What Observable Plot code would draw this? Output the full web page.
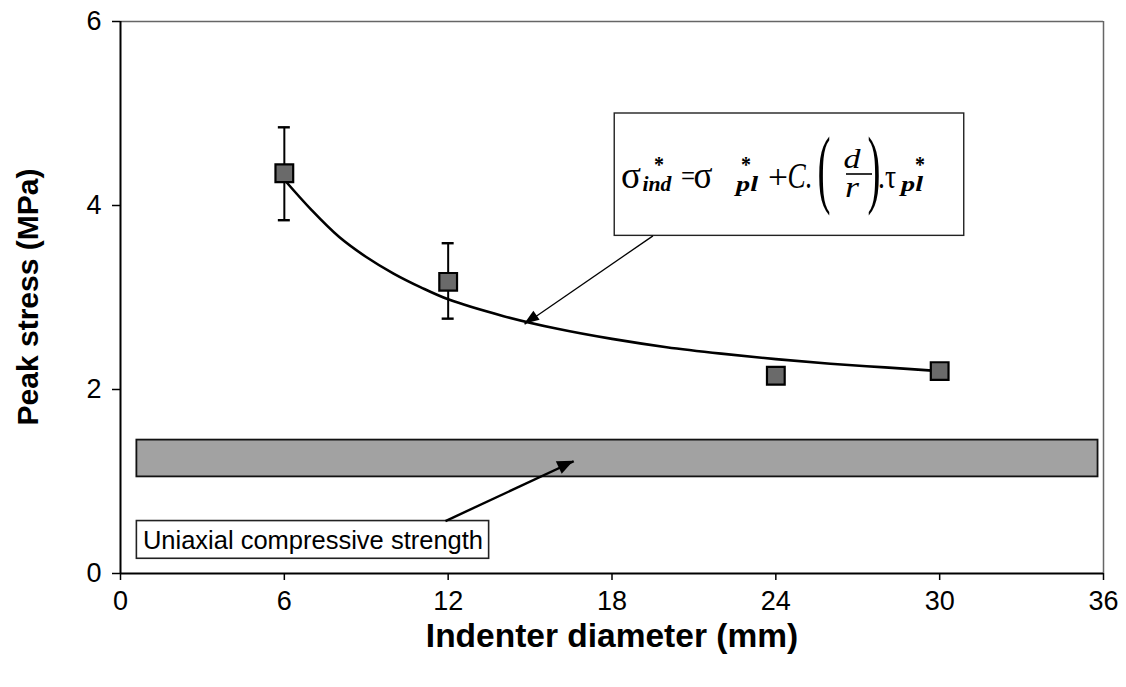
<!DOCTYPE html>
<html>
<head>
<meta charset="utf-8">
<script src="https://cdn.jsdelivr.net/npm/d3@7"></script>
<script src="https://cdn.jsdelivr.net/npm/@observablehq/plot@0.6"></script>
<style>
  html, body { margin: 0; padding: 0; background: #fff; }
  #chart svg { display: block; }
  #chart g[aria-label$="tick label"] text { font-size: 27px; }
</style>
</head>
<body>
<div id="chart"></div>
<script>
// ---- data ----
const diameters   = [6, 12, 24, 30];
const peakStress  = [4.35, 3.17, 2.15, 2.20];
const errLow      = [3.84, 2.77, null, null];
const errHigh     = [4.85, 3.59, null, null];

// fitted curve
const fitX = [6, 7, 8, 9, 10, 11, 12, 14, 16, 18, 20, 22, 24, 26, 28, 30];
const fitY = [4.28, 3.95, 3.66, 3.44, 3.26, 3.11, 2.98, 2.80, 2.66, 2.55, 2.46, 2.39, 2.33, 2.28, 2.24, 2.20];

// uniaxial compressive strength band
const ucsBand = [{x1: 0.6, x2: 35.8, y1: 1.05, y2: 1.45}];

const xTicks = [0, 6, 12, 18, 24, 30, 36];
const yTicks = [0, 2, 4, 6];

// annotation boxes & callout arrows (data units)
const formulaBox = [{x1: 18.1, x2: 30.9, y1: 3.67, y2: 5.0}];
const labelBox   = [{x1: 0.6, x2: 13.5, y1: 0.16, y2: 0.57, text: "Uniaxial compressive strength"}];
const callouts   = [
  {x1: 19.5, y1: 3.67, x2: 14.8, y2: 2.71, w: 1.3},
  {x1: 11.9, y1: 0.57, x2: 16.6, y2: 1.22, w: 2.4}
];

const xLabel = "Indenter diameter (mm)";
const yLabel = "Peak stress (MPa)";

// ---- build tables ----
const points = diameters.map((d, i) => ({x: d, y: peakStress[i], lo: errLow[i], hi: errHigh[i]}));
const errs = points.filter(p => p.lo != null);
const fit = fitX.map((d, i) => ({x: d, y: fitY[i]}));

const FONT = "'Liberation Sans', Arial, sans-serif";
const W = 1126, H = 687;
const plot = Plot.plot({
  width: W,
  height: H,
  marginLeft: 120,
  marginRight: 23,
  marginTop: 21,
  marginBottom: 114,
  style: {fontFamily: FONT, fontSize: "27px", color: "#000", background: "#fff"},
  x: {domain: [0, 36]},
  y: {domain: [0, 6]},
  marks: [
    Plot.axisX({ticks: xTicks, tickFormat: d => String(d), tickSize: 7, tickPadding: 10, label: null, stroke: "#000", strokeWidth: 1.5}),
    Plot.axisY({ticks: yTicks, tickFormat: d => String(d), tickSize: 8, tickPadding: 11, label: null, stroke: "#000", strokeWidth: 1.5}),
    // frame
    Plot.ruleY([6], {stroke: "#666", strokeWidth: 1.5}),
    Plot.ruleX([36], {stroke: "#666", strokeWidth: 1.5}),
    // band
    Plot.rect(ucsBand, {x1: "x1", x2: "x2", y1: "y1", y2: "y2", fill: "#a2a2a2", stroke: "#111", strokeWidth: 1.8, ariaLabel: "ucs band"}),
    // fit curve
    Plot.line(fit, {x: "x", y: "y", curve: "catmull-rom", stroke: "#000", strokeWidth: 2.6}),
    // error bars
    Plot.ruleX(errs, {x: "x", y1: "lo", y2: "hi", stroke: "#000", strokeWidth: 2}),
    Plot.ruleY(errs, {y: "lo", x1: "x", x2: "x", insetLeft: -6, insetRight: -6, stroke: "#000", strokeWidth: 2.4}),
    Plot.ruleY(errs, {y: "hi", x1: "x", x2: "x", insetLeft: -6, insetRight: -6, stroke: "#000", strokeWidth: 2.4}),
    // markers
    Plot.dot(points, {x: "x", y: "y", symbol: "square", r: 10, fill: "#6a6a6a", stroke: "#000", strokeWidth: 2.2, ariaLabel: "markers"}),
    // annotation boxes
    Plot.rect(formulaBox, {x1: "x1", x2: "x2", y1: "y1", y2: "y2", fill: "#fff", stroke: "#222", strokeWidth: 1.4}),
    Plot.rect(labelBox, {x1: "x1", x2: "x2", y1: "y1", y2: "y2", fill: "#fff", stroke: "#222", strokeWidth: 1.6}),
    Plot.text(labelBox, {x: "x1", y: d => (d.y1 + d.y2) / 2, text: "text", textAnchor: "start", dx: 6, dy: 1, fontSize: 25.5, fill: "#000"}),
    // callout lines
    Plot.link(callouts, {x1: "x1", y1: "y1", x2: "x2", y2: "y2", stroke: "#000", strokeWidth: "w"}),
    // axes lines
    Plot.ruleX([0], {stroke: "#000", strokeWidth: 2}),
    Plot.ruleY([0], {stroke: "#000", strokeWidth: 2})
  ]
});

document.getElementById("chart").appendChild(plot);
const svg = d3.select(plot);
const sx = plot.scale("x"), sy = plot.scale("y");

// stipple textures like the scanned original
const defs = svg.insert("defs", ":first-child");
function stipple(id, light, dark) {
  const p = defs.append("pattern").attr("id", id).attr("width", 2).attr("height", 2).attr("patternUnits", "userSpaceOnUse");
  p.append("rect").attr("width", 2).attr("height", 2).attr("fill", light);
  p.append("rect").attr("width", 1).attr("height", 1).attr("fill", dark);
  p.append("rect").attr("x", 1).attr("y", 1).attr("width", 1).attr("height", 1).attr("fill", dark);
}
stipple("bandTex", "#b8b8b8", "#8c8c8c");
stipple("dotTex", "#808080", "#565656");
svg.select('g[aria-label="ucs band"]').attr("fill", "url(#bandTex)");
svg.select('g[aria-label="markers"]').attr("fill", "url(#dotTex)");

// filled arrowheads at the end of each callout
const heads = svg.append("g").attr("fill", "#000");
callouts.forEach((c, i) => {
  const x1 = sx.apply(c.x1), y1 = sy.apply(c.y1), x2 = sx.apply(c.x2), y2 = sy.apply(c.y2);
  const a = Math.atan2(y2 - y1, x2 - x1);
  const L = i === 0 ? 15 : 16, Wd = i === 0 ? 5.5 : 7;
  const bx = x2 - L * Math.cos(a), by = y2 - L * Math.sin(a);
  const px = -Math.sin(a) * Wd, py = Math.cos(a) * Wd;
  heads.append("path").attr("d", `M${x2},${y2}L${bx + px},${by + py}L${bx - px},${by - py}Z`);
});

// axis titles
svg.append("text").text(xLabel)
  .attr("x", 612).attr("y", 647)
  .attr("text-anchor", "middle").attr("font-weight", "bold").attr("font-size", 33.5)
  .attr("font-family", FONT);
svg.append("text").text(yLabel)
  .attr("transform", `translate(38, ${(sy.apply(0) + sy.apply(6)) / 2}) rotate(-90)`)
  .attr("text-anchor", "middle").attr("font-weight", "bold").attr("font-size", 30)
  .attr("font-family", FONT);

// formula typeset as one text element (glyph layout within the box)
const formulaParts = [
  {t: "σ",   x: 631, y: 188, s: 37, w: 20},
  {t: "*",   x: 659, y: 172, s: 24, w: 10, b: 1},
  {t: "ind", x: 657, y: 191, s: 22, w: 29, b: 1, i: 1},
  {t: "=",   x: 688, y: 186, s: 30, w: 14},
  {t: "σ",   x: 703, y: 188, s: 37, w: 19},
  {t: "*",   x: 746, y: 172, s: 24, w: 10, b: 1},
  {t: "pl",  x: 747, y: 191, s: 22, w: 22, b: 1, i: 1},
  {t: "+",   x: 778, y: 188, s: 34, w: 20},
  {t: "C.",  x: 800, y: 188, s: 35, w: 25, i: 1},
  {t: "(",   x: 824, y: 197, s: 86, w: 13},
  {t: "d",   x: 852, y: 168, s: 28, w: 17, i: 1},
  {t: "r",   x: 852, y: 197, s: 30, w: 14, i: 1},
  {t: ")",   x: 874, y: 197, s: 86, w: 13},
  {t: ".τ",  x: 887, y: 188, s: 34, w: 18},
  {t: "*",   x: 920, y: 172, s: 24, w: 10, b: 1},
  {t: "pl",  x: 912, y: 191, s: 22, w: 22, b: 1, i: 1}
];
const ft = svg.append("text")
  .attr("font-family", "'Liberation Serif', 'Times New Roman', serif").attr("fill", "#000");
formulaParts.forEach(p => {
  const ts = ft.append("tspan").text(p.t).attr("x", p.x).attr("y", p.y).attr("font-size", p.s)
    .attr("textLength", p.w).attr("lengthAdjust", "spacingAndGlyphs");
  if (p.i) ts.attr("font-style", "italic");
  if (p.b) ts.attr("font-weight", "bold");
});
svg.append("line").attr("x1", 846).attr("x2", 872).attr("y1", 174).attr("y2", 174)
  .attr("stroke", "#000").attr("stroke-width", 1.6);
</script>
</body>
</html>
